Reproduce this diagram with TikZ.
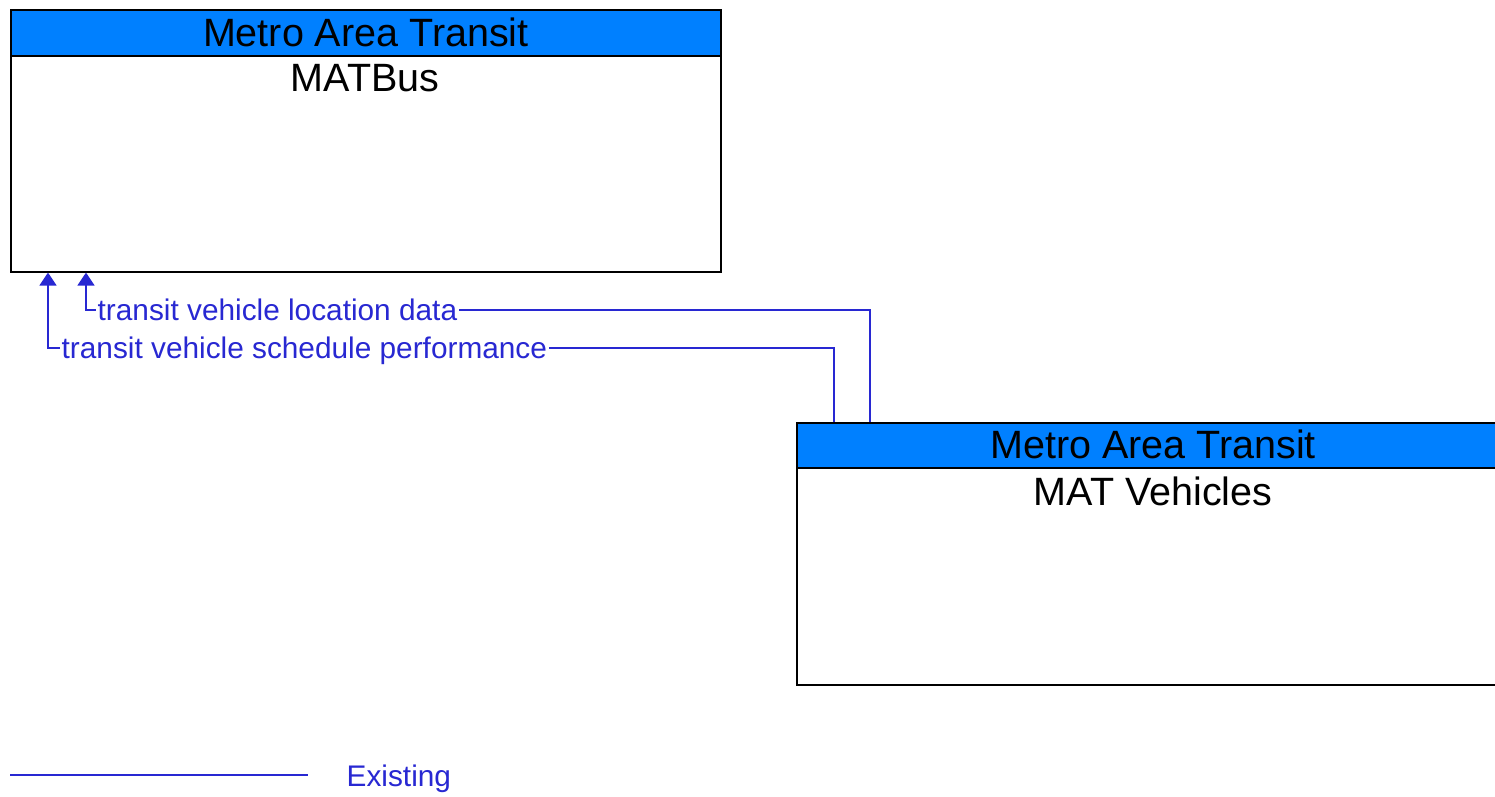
\documentclass[tikz,border=0pt]{standalone}
\usepackage{fontspec}
\setmainfont{Liberation Sans}
\usetikzlibrary{arrows.meta}
\definecolor{hdrblue}{RGB}{0,128,255}
\definecolor{flowblue}{RGB}{40,40,210}
\tikzset{
  boxbody/.style={draw=black, line width=1.6pt, fill=white, inner sep=0pt, anchor=north west},
  boxhead/.style={draw=black, line width=1.6pt, fill=hdrblue, inner sep=0pt, anchor=north west},
  titletext/.style={font=\fontsize{39.5}{44}\selectfont, text=black, inner sep=0pt},
  conn/.style={draw=flowblue, line width=1.6pt, -{Triangle[width=17pt,length=13pt]}},
  lbl/.style={font=\fontsize{29.8}{34}\selectfont, text=flowblue, fill=white, inner sep=1.5pt, anchor=base west},
}
\begin{document}
\begin{tikzpicture}[x=1pt,y=-1pt]
\useasboundingbox (0,0) rectangle (1495,796);
% MATBus
\node[boxbody, minimum width=710pt, minimum height=262pt] (matbus) at (10,9) {};
\node[boxhead, minimum width=710pt, minimum height=46pt] (matbushead) at (10,9) {};
\node[titletext] (matbusorg) at (matbushead.center) {Metro Area Transit};
\node[titletext] (matbusname) at (365,78) {MATBus};
% MAT Vehicles
\node[boxbody, minimum width=702pt, minimum height=262pt] (veh) at (796,422) {};
\node[boxhead, minimum width=702pt, minimum height=45pt] (vehhead) at (796,422) {};
\node[titletext] (vehorg) at (1153,444.5) {Metro Area Transit};
\node[titletext] (vehname) at (1153,491) {MAT Vehicles};
% connectors
\draw[conn] ([xshift=74pt]vehhead.north west) -- ++(0,-112) -| ([xshift=76pt]matbus.south west);
\draw[conn] ([xshift=38pt]vehhead.north west) -- ++(0,-74) -| ([xshift=38pt]matbus.south west);
\node[lbl] (l1) at (96,320.7) {transit vehicle location data};
\node[lbl] (l2) at (60,358.7) {transit vehicle schedule performance};
% legend
\coordinate (lega) at (10,775);
\coordinate (legb) at (308,775);
\draw[draw=flowblue, line width=1.6pt] (lega) -- (legb);
\node[lbl, fill=none] (legtext) at (345,786.7) {Existing};
\end{tikzpicture}
\end{document}
